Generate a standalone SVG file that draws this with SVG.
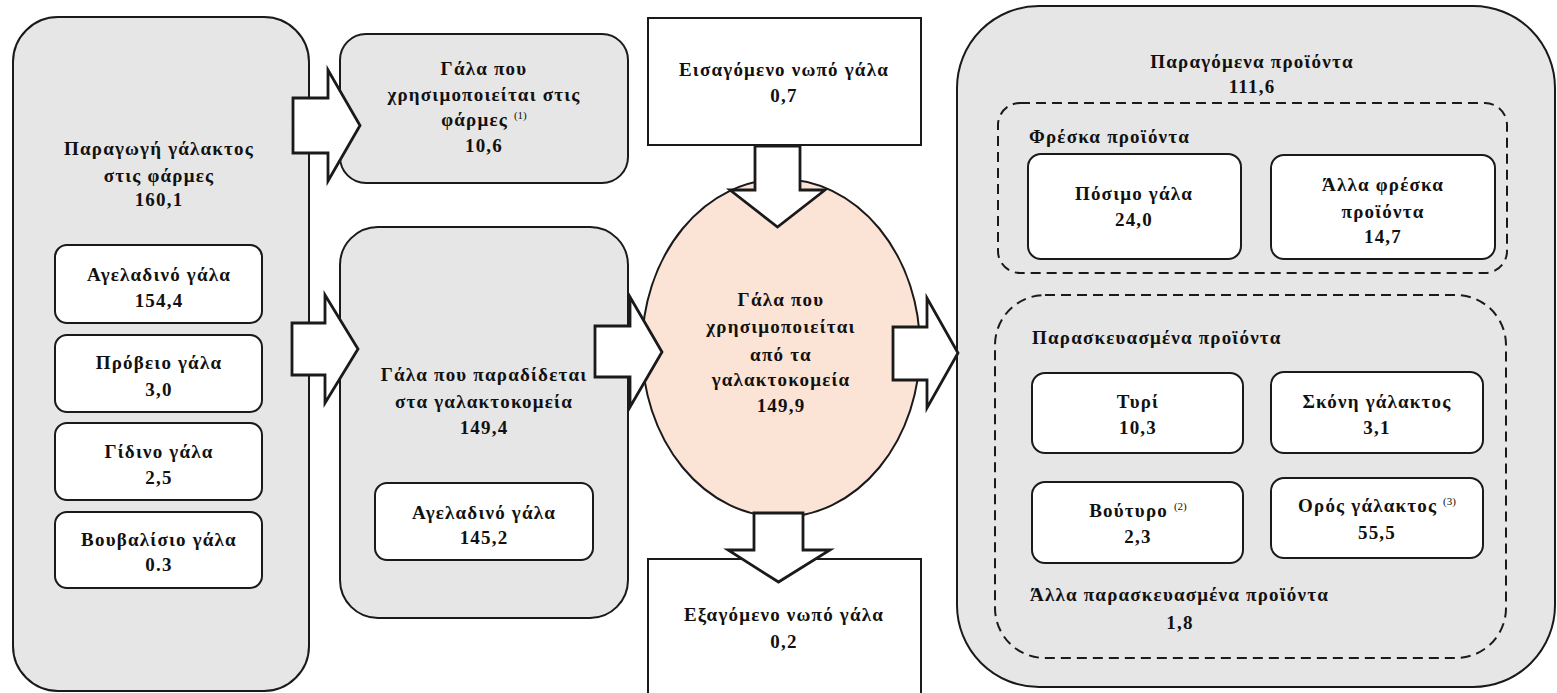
<svg xmlns="http://www.w3.org/2000/svg" width="1557" height="693" viewBox="0 0 1557 693">
<style>
.grey{fill:#e6e6e6;stroke:#1a1a1a;stroke-width:2}
.white{fill:#ffffff;stroke:#1a1a1a;stroke-width:2}
.dash{fill:none;stroke:#1a1a1a;stroke-width:2;stroke-dasharray:10 6}
.arrow{fill:#ffffff;stroke:#1a1a1a;stroke-width:2.8;stroke-linejoin:miter}
text{font-family:"Liberation Serif","Times New Roman",serif;font-weight:bold;font-size:19px;fill:#111;letter-spacing:1.2px}
.c{text-anchor:middle}
.sup{font-size:11px;font-weight:normal;letter-spacing:0}
</style>
<rect width="1557" height="693" fill="#ffffff"/>

<g id="farm-production">
<rect class="grey" x="13" y="17" width="296" height="674" rx="45" ry="45"/>
<text class="c" x="159" y="155">Παραγωγή γάλακτος</text>
<text class="c" x="159" y="182">στις φάρμες</text>
<text class="c" x="159" y="206">160,1</text>
</g>
<g id="cow-milk">
<rect class="white" x="55" y="245" width="207" height="78" rx="12" ry="12"/>
<text class="c" x="159" y="281">Αγελαδινό γάλα</text>
<text class="c" x="159" y="307">154,4</text>
</g>
<g id="sheep-milk">
<rect class="white" x="55" y="335" width="207" height="77" rx="12" ry="12"/>
<text class="c" x="159" y="369">Πρόβειο γάλα</text>
<text class="c" x="159" y="396">3,0</text>
</g>
<g id="goat-milk">
<rect class="white" x="55" y="423" width="207" height="77" rx="12" ry="12"/>
<text class="c" x="159" y="458">Γίδινο γάλα</text>
<text class="c" x="159" y="484">2,5</text>
</g>
<g id="buffalo-milk">
<rect class="white" x="55" y="512" width="207" height="76" rx="12" ry="12"/>
<text class="c" x="159" y="546">Βουβαλίσιο γάλα</text>
<text class="c" x="159" y="571">0.3</text>
</g>

<g id="used-on-farms">
<rect class="grey" x="340" y="34" width="288" height="149" rx="26" ry="26"/>
<text class="c" x="484" y="75">Γάλα που</text>
<text class="c" x="484" y="101">χρησιμοποιείται στις</text>
<text class="c" x="484" y="126">φάρμες <tspan class="sup" dy="-7">(1)</tspan></text>
<text class="c" x="484" y="152">10,6</text>
</g>

<g id="delivered-to-dairies">
<rect class="grey" x="340" y="227" width="288" height="391" rx="38" ry="38"/>
<text class="c" x="484" y="381">Γάλα που παραδίδεται</text>
<text class="c" x="484" y="408">στα γαλακτοκομεία</text>
<text class="c" x="484" y="434">149,4</text>
</g>
<g id="delivered-cow-milk">
<rect class="white" x="375" y="483" width="218" height="77" rx="12" ry="12"/>
<text class="c" x="484" y="519">Αγελαδινό γάλα</text>
<text class="c" x="484" y="544">145,2</text>
</g>

<g id="imported-raw-milk">
<rect class="white" x="648" y="18" width="273" height="127"/>
<text class="c" x="784" y="76">Εισαγόμενο νωπό γάλα</text>
<text class="c" x="784" y="102">0,7</text>
</g>

<g id="exported-raw-milk">
<rect class="white" x="648" y="559" width="273" height="140"/>
<text class="c" x="784" y="621">Εξαγόμενο νωπό γάλα</text>
<text class="c" x="784" y="648">0,2</text>
</g>

<g id="used-by-dairies">
<ellipse cx="781" cy="348" rx="139" ry="169" fill="#fbe4d6" stroke="#1a1a1a" stroke-width="2"/>
<text class="c" x="781" y="306">Γάλα που</text>
<text class="c" x="781" y="333">χρησιμοποιείται</text>
<text class="c" x="781" y="361">από τα</text>
<text class="c" x="781" y="386">γαλακτοκομεία</text>
<text class="c" x="781" y="412">149,9</text>
</g>

<g id="products">
<rect class="grey" x="957" y="6" width="598" height="681" rx="82" ry="82"/>
<text class="c" x="1252" y="68">Παραγόμενα προϊόντα</text>
<text class="c" x="1252" y="93">111,6</text>
</g>
<g id="fresh-products">
<rect class="dash" x="998" y="103" width="509" height="170" rx="22" ry="22"/>
<text x="1029" y="143">Φρέσκα προϊόντα</text>
</g>
<g id="drinking-milk">
<rect class="white" x="1028" y="154" width="213" height="105" rx="13" ry="13"/>
<text class="c" x="1134" y="200">Πόσιμο γάλα</text>
<text class="c" x="1134" y="226">24,0</text>
</g>
<g id="other-fresh">
<rect class="white" x="1271" y="155" width="224" height="104" rx="13" ry="13"/>
<text class="c" x="1383" y="191">Άλλα φρέσκα</text>
<text class="c" x="1383" y="218">προϊόντα</text>
<text class="c" x="1383" y="243">14,7</text>
</g>
<g id="processed-products">
<rect class="dash" x="995" y="295" width="511" height="363" rx="50" ry="50"/>
<text x="1032" y="344">Παρασκευασμένα προϊόντα</text>
<text x="1030" y="601">Άλλα παρασκευασμένα προϊόντα</text>
<text class="c" x="1180" y="629">1,8</text>
</g>
<g id="cheese">
<rect class="white" x="1032" y="373" width="211" height="80" rx="13" ry="13"/>
<text class="c" x="1138" y="408">Τυρί</text>
<text class="c" x="1138" y="434">10,3</text>
</g>
<g id="milk-powder">
<rect class="white" x="1271" y="372" width="212" height="81" rx="13" ry="13"/>
<text class="c" x="1377" y="408">Σκόνη γάλακτος</text>
<text class="c" x="1377" y="434">3,1</text>
</g>
<g id="butter">
<rect class="white" x="1032" y="482" width="211" height="81" rx="13" ry="13"/>
<text class="c" x="1138" y="517">Βούτυρο <tspan class="sup" dy="-7">(2)</tspan></text>
<text class="c" x="1138" y="543">2,3</text>
</g>
<g id="whey">
<rect class="white" x="1271" y="478" width="212" height="80" rx="13" ry="13"/>
<text class="c" x="1377" y="512">Ορός γάλακτος <tspan class="sup" dy="-7">(3)</tspan></text>
<text class="c" x="1377" y="539">55,5</text>
</g>

<g id="connectors">
<polygon class="arrow" points="293,98 328,98 328,70 360,125.5 328,181 328,153 293,153"/>
<polygon class="arrow" points="292,323 325,323 325,295 358,349 325,403 325,375 292,375"/>
<polygon class="arrow" points="595,326 630,326 630,297 662,352 630,407 630,377 595,377"/>
<polygon class="arrow" points="893,327 927,327 927,298 958,353 927,408 927,380 893,380"/>
<polygon class="arrow" points="755,146 800,146 800,190 825,190 777.5,227 730,190 755,190"/>
<polygon class="arrow" points="754,513 803,513 803,550 830,550 778.5,582 728,550 754,550"/>
</g>
</svg>
